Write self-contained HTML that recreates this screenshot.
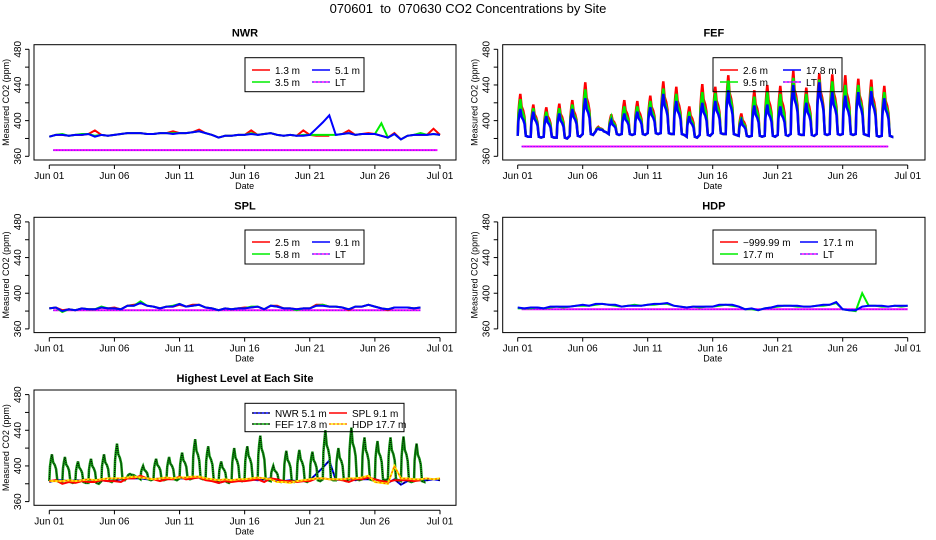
<!DOCTYPE html>
<html><head><meta charset="utf-8">
<style>
html,body{margin:0;padding:0;background:#fff;}
svg{display:block;font-family:"Liberation Sans",Arial,sans-serif;}
</style></head>
<body>
<svg id="chart" width="936" height="540" viewBox="0 0 936 540" xmlns="http://www.w3.org/2000/svg">
<rect width="936" height="540" fill="#fff"/>
<text x="468" y="13" text-anchor="middle" font-size="13">070601&#160; to&#160; 070630 CO2 Concentrations by Site</text>
</svg>
<script>
// ---- Data (day offsets from Jun 01; grid step 0.5 day) ----
const dateLabels = ["Jun 01","Jun 06","Jun 11","Jun 16","Jun 21","Jun 26","Jul 01"];
const dateTicks = [0,5,10,15,20,25,30];
const yTicks = [360,380,400,420,440,460,480];
const yLabels = ["360","","400","","440","","480"];

const nwrBlue = [382,384,384,383,384,384,385,382,384,383,384,385,386,386,386,385,385,386,386,385,386,386,387,388,386,384,381,383,383,384,384,385,384,385,386,384,383,384,383,383,384,391,398,406,384,385,386,384,385,385,385,383,381,385,379,383,384,384,384,385,384];
const nwrRed  = [382,384,384,383,384,384,385,389,384,383,384,385,386,386,386,385,385,386,386,388,386,386,387,390,386,384,381,383,383,384,384,389,384,385,386,384,383,384,383,389,384,383,383,383,null,385,389,384,385,386,385,383,381,386,379,383,384,384,384,391,384];
const nwrGreen= [382,384,385,383,384,385,385,383,384,383,384,385,386,386,386,385,385,386,386,386,386,386,387,388,386,384,381,383,383,384,384,386,384,385,386,384,383,384,383,384,384,384,384,384,384,385,386,384,385,385,385,397,381,385,379,383,384,386,384,385,384];
const nwrLT = [367,367];

const fefRed   = [430,418,415,419,423,443,393,407,423,422,428,444,438,416,441,438,451,408,434,440,439,456,437,453,452,451,447,446,439];
const fefGreen = [424,414,410,414,418,435,392,404,416,416,422,436,430,410,432,431,445,404,427,432,430,448,430,446,444,440,440,438,432];
const fefBlue  = [413,410,405,408,413,425,391,400,408,410,415,430,422,405,420,422,434,400,417,418,416,440,420,443,432,428,432,433,425];
const fefBase  = [383,382,382,381,383,385,388,385,385,385,386,386,385,382,384,386,385,383,383,383,384,385,384,385,385,385,385,383,383];
const fefLT = [371,371];

const splBlue = [383,384,380,382,381,383,382,382,384,383,383,382,386,386,389,386,385,383,385,385,388,385,386,387,384,383,381,383,382,383,383,384,385,382,386,385,383,383,382,383,383,386,386,385,385,384,382,385,385,387,385,383,382,384,384,384,383,384];
const splRed  = [383,384,381,382,381,383,382,382,384,383,384,382,386,387,389,386,385,383,385,385,387,385,387,387,384,383,381,383,382,383,384,384,385,382,386,386,383,383,382,383,383,387,387,385,385,384,381,385,385,387,385,383,381,384,384,384,383,384];
const splGreen= [383,384,379,382,381,383,382,382,385,383,383,382,386,386,391,386,385,383,385,386,388,385,386,387,384,383,381,383,382,383,383,385,385,382,386,385,383,383,381,383,383,386,387,385,385,384,382,385,385,387,385,383,382,384,384,384,383,384];
const splLT = [381,381];

const hdpBlue = [384,383,384,384,383,385,385,385,385,386,387,386,388,388,387,387,385,386,386,386,387,388,388,389,386,385,384,385,385,385,385,387,387,387,385,382,383,381,383,384,386,386,386,386,385,385,386,387,387,390,382,381,381,385,386,386,386,385,386,386,386];
const hdpGreen= [383,383,383,384,383,384,385,384,385,386,386,386,387,388,387,386,385,386,387,386,387,387,388,388,386,385,384,385,384,385,385,386,387,386,385,382,382,381,383,384,385,386,386,385,385,385,386,386,387,389,382,381,380,400,386,386,385,385,386,385,386];
const hdpLT = [382,382];

// ---- Geometry ----
const svg = document.getElementById('chart');
const NS = "http://www.w3.org/2000/svg";
function mk(tag, attrs, parent){ const e=document.createElementNS(NS,tag); for(const k in attrs) e.setAttribute(k,attrs[k]); (parent||svg).appendChild(e); return e; }

function makePanel(name, title, L, R, T, x0, x30){
  const g = mk('g',{});
  
  
  const B = T + 115.3;
  const yb = T + 111.6, yt = T + 4.6;
  const xs = d => x0 + (x30 - x0) * d / 30;
  const ys = v => yb - (yb - yt) * (v - 360) / 120;
  const t = mk('text',{x:(L+R)/2, y:T-8, 'text-anchor':'middle','font-size':11,'font-weight':'bold'},g);
  t.textContent = title;
  
  
  const box = mk('rect',{x:L,y:T,width:R-L,height:B-T,fill:'none',stroke:'#000','stroke-width':1},g);
  
  
  const ax = mk('line',{x1:xs(0),x2:xs(30),y1:B+5,y2:B+5,stroke:'#000'},g);
  
  
  dateTicks.forEach((d,i)=>{
    mk('line',{x1:xs(d),x2:xs(d),y1:B+5,y2:B+9,stroke:'#000'},g);
    const tl = mk('text',{x:xs(d),y:B+19,'text-anchor':'middle','font-size':10},g);
    tl.textContent = dateLabels[i];
    
    
  });
  const xt = mk('text',{x:(xs(0)+xs(30))/2,y:B+29,'text-anchor':'middle','font-size':9},g);
  xt.textContent = 'Date';
  
  
  const ayx = L - 5;
  const ay = mk('line',{x1:ayx,x2:ayx,y1:ys(360),y2:ys(480),stroke:'#000'},g);
  
  
  yTicks.forEach((v,i)=>{
    mk('line',{x1:ayx-4,x2:ayx,y1:ys(v),y2:ys(v),stroke:'#000'},g);
    if(yLabels[i]){
      const yl = mk('text',{x:0,y:0,'text-anchor':'middle','font-size':10,transform:`translate(${ayx-8},${ys(v)}) rotate(-90)`},g);
      yl.textContent = yLabels[i];
      
      
    }
  });
  const yt2 = mk('text',{x:0,y:0,'text-anchor':'middle','font-size':9,transform:`translate(${L-25},${(T+B)/2}) rotate(-90)`},g);
  yt2.textContent = 'Measured CO2 (ppm)';
  
  
  return {g, xs, ys, L, R, T, B};
}

function gridPts(p, arr, step){
  const segs=[]; let cur=[];
  arr.forEach((v,i)=>{ if(v==null){ if(cur.length) segs.push(cur); cur=[]; } else cur.push([p.xs(i*step), p.ys(v)]); });
  if(cur.length) segs.push(cur);
  return segs;
}
function fefPts(p, peaks){
  const pts=[];
  peaks.forEach((pk,d)=>{
    const b = fefBase[d];
    pts.push([d, b]);
    pts.push([d+0.05, b + (pk-b)*0.55]);
    pts.push([d+0.12, b + (pk-b)*0.8]);
    pts.push([d+0.2, pk]);
    pts.push([d+0.3, b + (pk-b)*0.7]);
    pts.push([d+0.42, b + (pk-b)*0.6]);
    pts.push([d+0.52, b + (pk-b)*0.45]);
    pts.push([d+0.62, b]);
    pts.push([d+0.8, b-1]);
  });
  pts.push([peaks.length-0.2, fefBase[fefBase.length-1]]);
  return [pts.map(q=>[p.xs(q[0]), p.ys(q[1])])];
}
function drawSegs(p, segs, color, w, name, dash){
  segs.forEach(s=>{
    const a = {points:s.map(q=>q[0].toFixed(1)+','+q[1].toFixed(1)).join(' '),fill:'none',stroke:color,'stroke-width':w,'stroke-linejoin':'miter'};
    if(dash) a['stroke-dasharray']=dash;
    const pl = mk('polyline',a,p.g);
    
    
  });
}
function ltLine(p, arr, endDay, name){
  const s=[[p.xs(0.3),p.ys(arr[0])],[p.xs(endDay),p.ys(arr[1])]];
  drawSegs(p,[s],'#ff00ff',2,name);
  drawSegs(p,[s],'#3333ff',1,name+'-dots','1,2');
}
function legend(p, x, y, w, h, entries, name){
  const lg = mk('g',{},p.g);
  
  
  mk('rect',{x,y,width:w,height:h,fill:'none',stroke:'#000'},lg);
  entries.forEach(e=>{
    mk('line',{x1:e.x,x2:e.x+18,y1:e.y,y2:e.y,stroke:e.c,'stroke-width':1.5},lg);
    if(e.d) mk('line',{x1:e.x,x2:e.x+18,y1:e.y,y2:e.y,stroke:e.d,'stroke-width':1,'stroke-dasharray':'2,2'},lg);
    const tx = mk('text',{x:e.x+23,y:e.y+4,'font-size':10},lg);
    tx.textContent = e.t;
    
    
  });
}

// NWR
const pN = makePanel('nwr','NWR',34,456,44.7,49.3,440);
ltLine(pN, nwrLT, 29.8, 'nwr-lt-line');
drawSegs(pN, gridPts(pN,nwrRed,0.5), '#ff0000', 2, 'nwr-1.3m-line');
drawSegs(pN, gridPts(pN,nwrGreen,0.5), '#00ee00', 2, 'nwr-3.5m-line');
drawSegs(pN, gridPts(pN,nwrBlue,0.5), '#0000ff', 2, 'nwr-5.1m-line');
legend(pN,245,57.7,119,34,[{x:252,y:70,c:'#ff0000',t:'1.3 m'},{x:252,y:82,c:'#00ee00',t:'3.5 m'},{x:312,y:70,c:'#0000ff',t:'5.1  m'},{x:312,y:82,c:'#ff00ff',d:'#3333ff',t:'LT'}],'nwr-legend');

// FEF
const pF = makePanel('fef','FEF',502.7,925,44.7,517.7,907.7);
ltLine(pF, fefLT, 28.5, 'fef-lt-line');
drawSegs(pF, fefPts(pF,fefRed), '#ff0000', 2.5, 'fef-2.6m-line');
drawSegs(pF, fefPts(pF,fefGreen), '#00ee00', 2.5, 'fef-9.5m-line');
drawSegs(pF, fefPts(pF,fefBlue), '#0000ff', 2.5, 'fef-17.8m-line');
legend(pF,713,57.7,129,34,[{x:720,y:70,c:'#ff0000',t:'2.6 m'},{x:720,y:82,c:'#00ee00',t:'9.5 m'},{x:783,y:70,c:'#0000ff',t:'17.8 m'},{x:783,y:82,c:'#ff00ff',d:'#3333ff',t:'LT'}],'fef-legend');

// SPL
const pS = makePanel('spl','SPL',34,456,217.3,49.3,440);
ltLine(pS, splLT, 28.5, 'spl-lt-line');
drawSegs(pS, gridPts(pS,splRed,0.5), '#ff0000', 2, 'spl-2.5m-line');
drawSegs(pS, gridPts(pS,splGreen,0.5), '#00ee00', 2, 'spl-5.8m-line');
drawSegs(pS, gridPts(pS,splBlue,0.5), '#0000ff', 2, 'spl-9.1m-line');
legend(pS,245,230,119,34,[{x:252,y:242,c:'#ff0000',t:'2.5 m'},{x:252,y:254,c:'#00ee00',t:'5.8 m'},{x:312,y:242,c:'#0000ff',t:'9.1  m'},{x:312,y:254,c:'#ff00ff',d:'#3333ff',t:'LT'}],'spl-legend');

// HDP
const pH = makePanel('hdp','HDP',502.7,925,217.3,517.7,907.7);
ltLine(pH, hdpLT, 30, 'hdp-lt-line');
drawSegs(pH, gridPts(pH,hdpGreen,0.5), '#00ee00', 2, 'hdp-17.7m-line');
drawSegs(pH, gridPts(pH,hdpBlue,0.5), '#0000ff', 2, 'hdp-17.1m-line');
legend(pH,713,230,163,34,[{x:720,y:242,c:'#ff0000',t:'\u2212999.99 m'},{x:720,y:254,c:'#00ee00',t:'17.7 m'},{x:800,y:242,c:'#0000ff',t:'17.1 m'},{x:800,y:254,c:'#ff00ff',d:'#3333ff',t:'LT'}],'hdp-legend');

// Highest level
const pB = makePanel('highest','Highest Level at Each Site',34,456,390,49.3,440);
drawSegs(pB, gridPts(pB,nwrBlue,0.5), '#0000ff', 2, 'highest-nwr-line');
drawSegs(pB, gridPts(pB,nwrBlue,0.5), '#000', 1, 'highest-nwr-dash','2,2');
drawSegs(pB, fefPts(pB,fefBlue), '#119911', 2.5, 'highest-fef-line');
drawSegs(pB, fefPts(pB,fefBlue), '#000', 1, 'highest-fef-dash','1,1');
drawSegs(pB, gridPts(pB,splBlue,0.5), '#ff0000', 2, 'highest-spl-line');
drawSegs(pB, gridPts(pB,hdpGreen,0.5), '#ffee00', 2, 'highest-hdp-line');
drawSegs(pB, gridPts(pB,hdpGreen,0.5), '#ff4400', 1, 'highest-hdp-dash','2,2');
legend(pB,245,403.3,159,28.4,[{x:252,y:413,c:'#0000ff',d:'#000',t:'NWR  5.1 m'},{x:252,y:424,c:'#00aa00',d:'#000',t:'FEF  17.8 m'},{x:329,y:413,c:'#ff0000',t:'SPL  9.1 m'},{x:329,y:424,c:'#ffee00',d:'#ff4400',t:'HDP  17.7 m'}],'highest-legend');
</script>
</body></html>
